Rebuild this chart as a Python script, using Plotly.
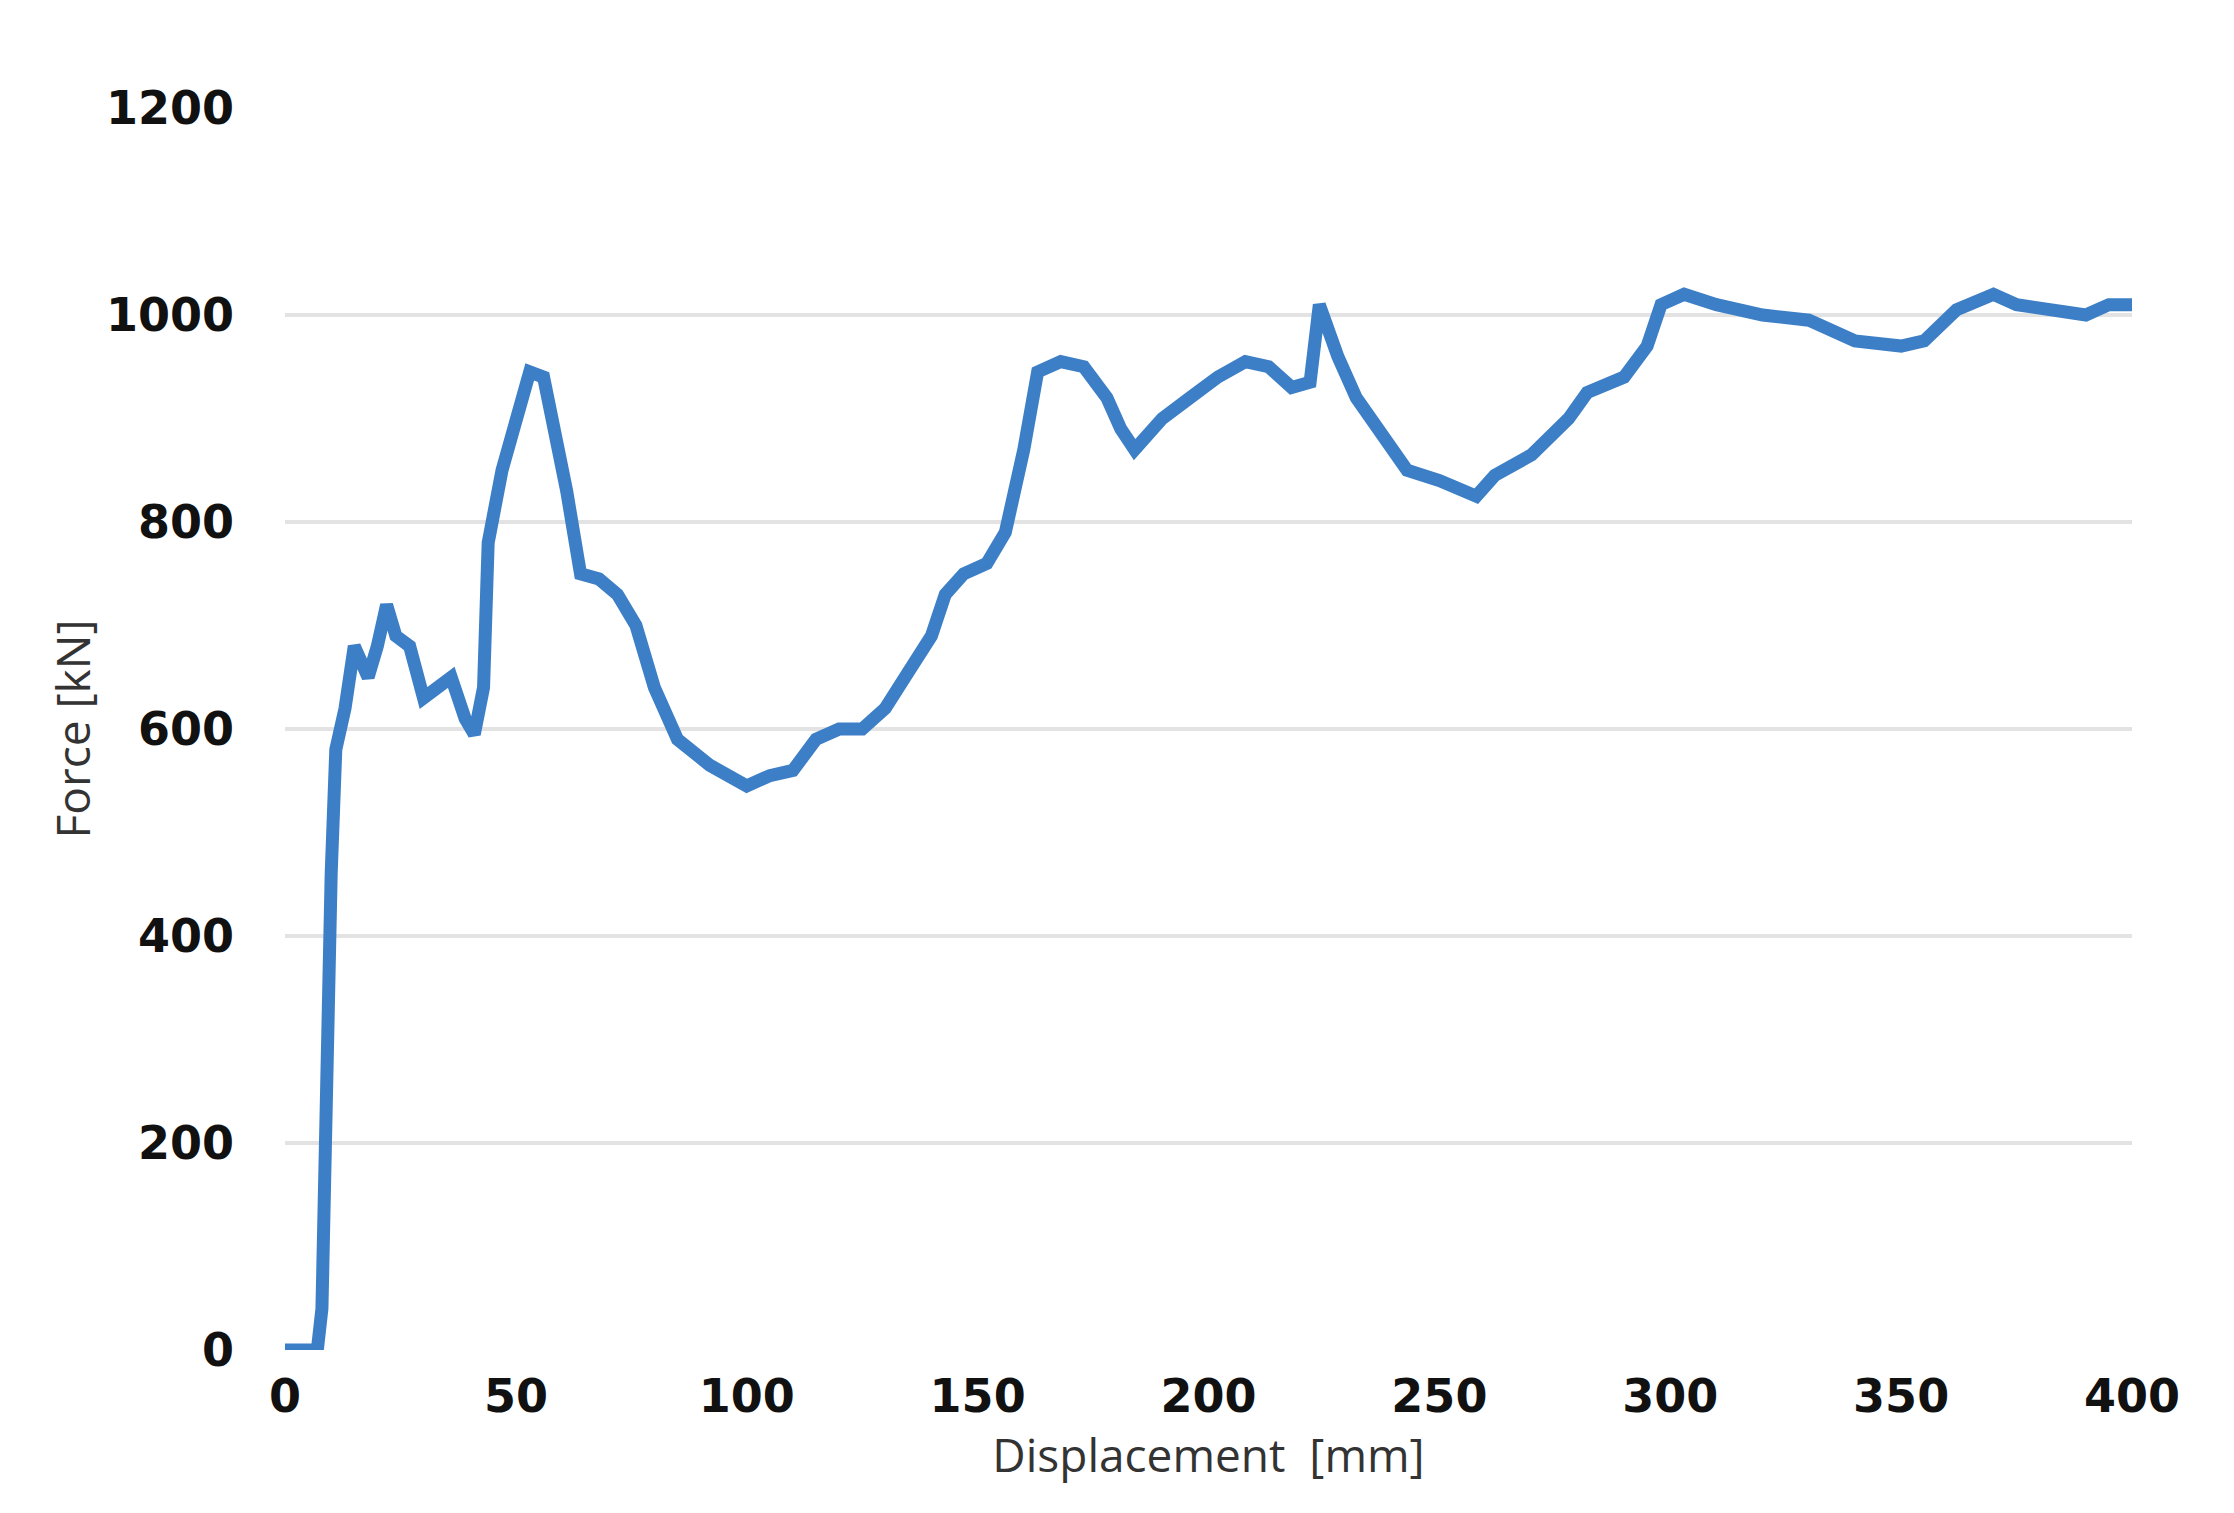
import plotly.graph_objects as go

# displacement [mm] and force [kN]
displacement = [0, 7, 8, 9, 10, 11, 13, 15, 18, 20, 22, 24, 27, 30, 33, 36, 39, 41, 43, 44,
                47, 50, 53, 56, 58, 61, 64, 68, 72, 76, 80, 85, 92, 100, 105, 110, 115, 120,
                125, 130, 135, 140, 143, 147, 152, 156, 160, 163, 168, 173, 178, 181, 184,
                190, 196, 202, 208, 213, 218, 222, 224, 228, 232, 238, 243, 250, 255, 258,
                262, 270, 278, 282, 290, 295, 298, 303, 310, 320, 330, 340, 350, 355, 362,
                370, 375, 385, 390, 395, 400]
force = [0, 0, 40, 300, 460, 580, 620, 680, 650, 680, 720, 690, 680, 630, 640, 650, 610, 595,
         640, 780, 850, 900, 945, 940, 900, 830, 750, 745, 730, 700, 640, 590, 565, 545, 555,
         560, 590, 600, 600, 620, 655, 690, 730, 750, 760, 790, 870, 945, 955, 950, 920, 890,
         870, 900, 920, 940, 955, 950, 930, 935, 1010, 960, 920, 880, 850, 840, 830, 825, 845,
         865, 900, 925, 940, 970, 1010, 1020, 1010, 1000, 995, 975, 970, 975, 1005, 1020, 1010,
         1005, 1000, 1010, 1010]

x_ticks = [0, 50, 100, 150, 200, 250, 300, 350, 400]
y_ticks = [0, 200, 400, 600, 800, 1000, 1200]

fig = go.Figure(go.Scatter(x=displacement, y=force, mode='lines',
                           line=dict(color='#3d7fc6', width=13)))

tick_font = dict(size=46, family='DejaVu Sans', color='#111', weight='bold')

fig.update_layout(
    width=2234, height=1513, plot_bgcolor='white', paper_bgcolor='white',
    margin=dict(l=277, r=110, t=100, b=171), showlegend=False,
    font=dict(family='Open Sans', color='#222'),
)
fig.update_xaxes(range=[0, 400], tickvals=x_ticks, showgrid=False, zeroline=False,
                 tickfont=tick_font, ticks='', ticklabelstandoff=15,
                 title=dict(text='Displacement  [mm]', font=dict(size=46, color='#333'), standoff=5))
fig.update_yaxes(range=[0, 1200], tickvals=y_ticks, showgrid=True, gridcolor='#e3e3e3',
                 gridwidth=4, zeroline=False, tickfont=tick_font, ticklabelstandoff=50,
                 title=dict(text='Force [kN]', font=dict(size=46, color='#333'), standoff=0))

fig.write_html("out.html")
